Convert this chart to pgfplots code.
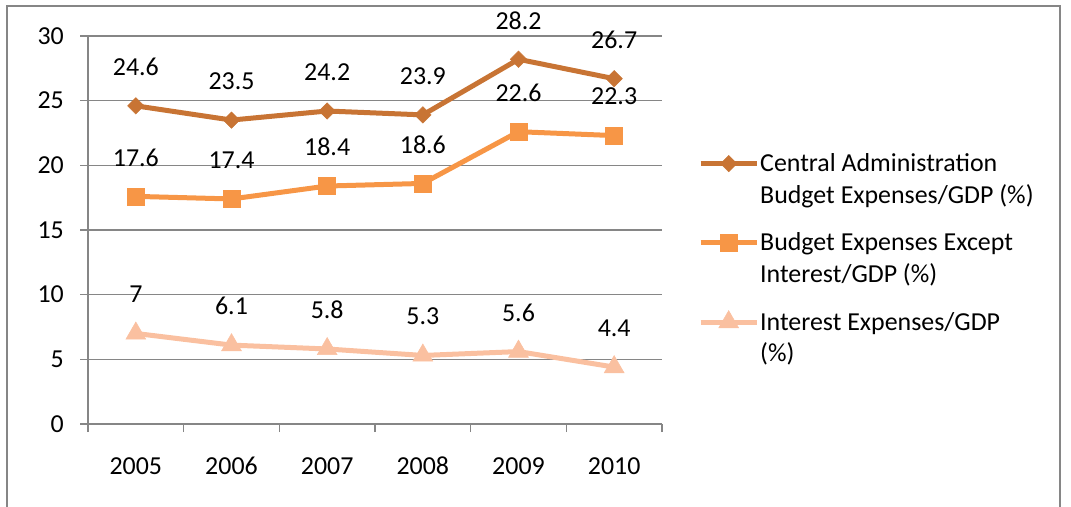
\documentclass[border=0pt]{standalone}
\usepackage{fontspec}
\setmainfont{Carlito}
\usepackage{pgfplots}
\pgfplotsset{compat=1.18}
\definecolor{c1}{RGB}{200,116,52}
\definecolor{c2}{RGB}{247,150,70}
\definecolor{c3}{RGB}{250,192,160}
\definecolor{gridc}{RGB}{134,134,134}
\newcommand{\lt}[1]{\parbox[t]{290bp}{\raggedright #1}}
\begin{document}
\begin{tikzpicture}
\useasboundingbox (0bp,0bp) rectangle (1071bp,507bp);
\draw[gridc, line width=1.2bp] (7bp,-5bp) rectangle (1060bp,501bp);
\begin{axis}[
  at={(88bp,83bp)}, anchor=south west,
  scale only axis, width=574bp, height=388bp,
  xmin=-0.5, xmax=5.5, ymin=0, ymax=30,
  ytick={0,5,...,30},
  xtick={-0.5,0.5,...,5.5},
  xticklabels={2005,2006,2007,2008,2009,2010},
  x tick label as interval,
  axis lines*=left,
  axis line style={gridc, line width=1.2bp},
  tick align=outside,
  major tick length=8bp,
  tick style={gridc, line width=1.2bp},
  ymajorgrids,
  grid style={gridc, line width=1.2bp},
  font=\fontsize{26}{32}\selectfont,
  /pgf/number format/assume math mode=true,
  yticklabel style={inner sep=0pt, xshift=-16bp},
  xticklabel style={inner sep=0pt, yshift=-25bp},
  clip=false,
  nodes near coords={\pgfmathprintnumber{\pgfplotspointmeta}},
  every node near coord/.append style={black, anchor=center, yshift=39bp, font=\fontsize{26}{32}\selectfont},
  legend image code/.code={\draw[mark repeat=2,mark phase=2,#1] plot coordinates {(0bp,8bp)(28bp,8bp)(56bp,8bp)};},
  legend style={at={(1.0575,0.705)}, anchor=north west, draw=none, fill=none,
    font=\fontsize{26}{32}\selectfont, row sep=57.5bp, column sep=0bp,
    nodes={inner sep=1bp}, cells={anchor=base west}},
]
\addplot[c1, line width=5bp, mark=square*, mark size=5.8bp, mark options={solid, line width=0.5bp, rotate=45}]
  coordinates {(0,24.6) (1,23.5) (2,24.2) (3,23.9) (4,28.2) (5,26.7)};
\addplot[c2, line width=5bp, mark=square*, mark size=8.5bp, mark options={solid, line width=0.5bp}]
  coordinates {(0,17.6) (1,17.4) (2,18.4) (3,18.6) (4,22.6) (5,22.3)};
\addplot[c3, line width=5bp, mark=triangle*, mark size=11.5bp, mark options={solid, line width=0.5bp}]
  coordinates {(0,7) (1,6.1) (2,5.8) (3,5.3) (4,5.6) (5,4.4)};
\legend{{\lt{Central Administration\\Budget Expenses/GDP (\%)}},
        {\lt{Budget Expenses Except\\Interest/GDP (\%)}},
        {\lt{Interest Expenses/GDP\\(\%)}}}
\end{axis}
\end{tikzpicture}
\end{document}
